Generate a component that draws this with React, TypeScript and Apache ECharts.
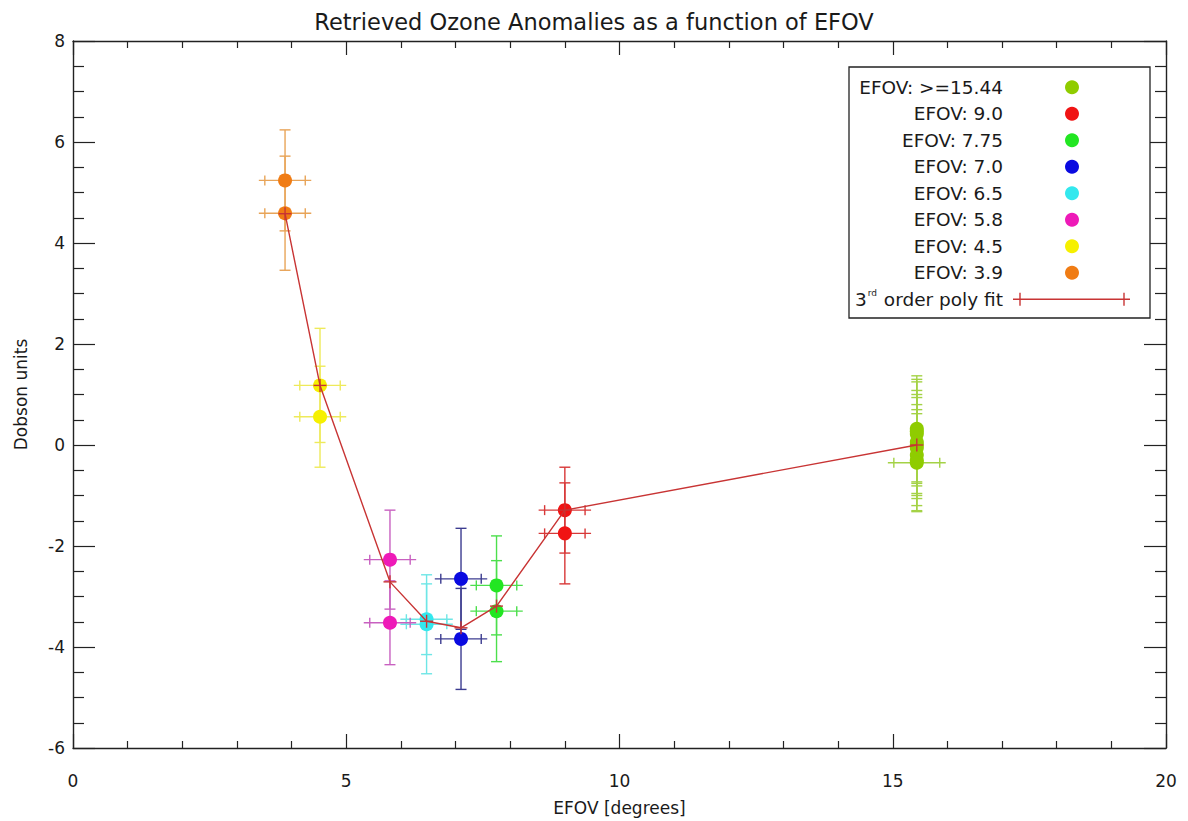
import React, { useEffect, useRef } from 'react';
import * as echarts from 'echarts';

// ---- Axis ranges / labels ----
const X_MIN = 0;
const X_MAX = 20;
const X_INTERVAL = 5;
const Y_MIN = -6;
const Y_MAX = 8;
const Y_INTERVAL = 2;
const TITLE = 'Retrieved Ozone Anomalies as a function of EFOV';
const X_NAME = 'EFOV [degrees]';
const Y_NAME = 'Dobson units';

// ---- Groups (legend order) ----
const GROUP_LABELS = [
  'EFOV: >=15.44',
  'EFOV: 9.0',
  'EFOV: 7.75',
  'EFOV: 7.0',
  'EFOV: 6.5',
  'EFOV: 5.8',
  'EFOV: 4.5',
  'EFOV: 3.9',
];
const GROUP_EFOV = [15.44, 9.0, 7.75, 7.1, 6.47, 5.8, 4.52, 3.88];

// ---- Retrieved anomalies per group ----
const EFOV_1544_Y = [0.32, 0.27, 0.22, 0.06, 0.0, -0.06, -0.2, -0.3, -0.35];
const EFOV_1544_YERR = [1.05, 1.03, 1.03, 1.02, 1.0, 1.0, 1.0, 1.0, 0.97];
const EFOV_1544_XERR = [0, 0, 0, 0, 0, 0, 0, 0, 0.42];

const EFOV_90_Y = [-1.29, -1.75];
const EFOV_90_YERR = [0.85, 1.0];
const EFOV_90_XERR = [0.37, 0.37];

const EFOV_775_Y = [-2.78, -3.29];
const EFOV_775_YERR = [0.98, 1.0];
const EFOV_775_XERR = [0.37, 0.37];

const EFOV_70_Y = [-2.65, -3.84];
const EFOV_70_YERR = [1.0, 1.0];
const EFOV_70_XERR = [0.37, 0.37];

const EFOV_65_Y = [-3.45, -3.55];
const EFOV_65_YERR = [0.7, 0.98];
const EFOV_65_XERR = [0.37, 0.37];

const EFOV_58_Y = [-2.27, -3.52];
const EFOV_58_YERR = [0.98, 0.83];
const EFOV_58_XERR = [0.37, 0.37];

const EFOV_45_Y = [1.18, 0.56];
const EFOV_45_YERR = [1.13, 1.0];
const EFOV_45_XERR = [0.37, 0.37];

const EFOV_39_Y = [5.24, 4.59];
const EFOV_39_YERR = [1.0, 1.13];
const EFOV_39_XERR = [0.37, 0.37];

// ---- 3rd order poly fit ----
const FIT_X = [3.88, 4.52, 5.8, 6.47, 7.1, 7.75, 9.0, 15.44];
const FIT_Y = [4.58, 1.18, -2.71, -3.49, -3.62, -3.19, -1.29, 0.0];
const FIT_LABEL = '3rd order poly fit';

// ---- Styles ----
const DOT_COLORS = ['#8fcc00', '#f01414', '#22e622', '#0a0ae0', '#33e8ee', '#ee1ab8', '#f6f000', '#f07c14'];
const BAR_COLORS = ['#a4d246', '#d83838', '#4cdf4c', '#3c3c90', '#6ee6e6', '#c860c0', '#eeea5a', '#e8a458'];
const FIT_COLOR = '#c83434';
const FONT = 'DejaVu Sans';
const TEXT_COLOR = '#1a1a1a';

const GROUP_Y = [EFOV_1544_Y, EFOV_90_Y, EFOV_775_Y, EFOV_70_Y, EFOV_65_Y, EFOV_58_Y, EFOV_45_Y, EFOV_39_Y];
const GROUP_YERR = [EFOV_1544_YERR, EFOV_90_YERR, EFOV_775_YERR, EFOV_70_YERR, EFOV_65_YERR, EFOV_58_YERR, EFOV_45_YERR, EFOV_39_YERR];
const GROUP_XERR = [EFOV_1544_XERR, EFOV_90_XERR, EFOV_775_XERR, EFOV_70_XERR, EFOV_65_XERR, EFOV_58_XERR, EFOV_45_XERR, EFOV_39_XERR];

function errorBarRenderer(color: string) {
  return (params: any, api: any) => {
    const x = api.value(0);
    const y = api.value(1);
    const ye = api.value(2);
    const xe = api.value(3);
    const c = api.coord([x, y]);
    const top = api.coord([x, y + ye]);
    const bot = api.coord([x, y - ye]);
    const st = { stroke: color, lineWidth: 1.4 };
    const capV = 5.5;
    const children: any[] = [
      { type: 'line', shape: { x1: c[0], y1: top[1], x2: c[0], y2: bot[1] }, style: st },
      { type: 'line', shape: { x1: c[0] - capV, y1: top[1], x2: c[0] + capV, y2: top[1] }, style: st },
      { type: 'line', shape: { x1: c[0] - capV, y1: bot[1], x2: c[0] + capV, y2: bot[1] }, style: st },
    ];
    if (xe > 0) {
      const l = api.coord([x - xe, y]);
      const r = api.coord([x + xe, y]);
      const over = 6;
      const capH = 5;
      children.push(
        { type: 'line', shape: { x1: l[0] - over, y1: c[1], x2: r[0] + over, y2: c[1] }, style: st },
        { type: 'line', shape: { x1: l[0], y1: c[1] - capH, x2: l[0], y2: c[1] + capH }, style: st },
        { type: 'line', shape: { x1: r[0], y1: c[1] - capH, x2: r[0], y2: c[1] + capH }, style: st }
      );
    }
    return { type: 'group', children };
  };
}

function plusRenderer(color: string, half: number) {
  return (params: any, api: any) => {
    const c = api.coord([api.value(0), api.value(1)]);
    const st = { stroke: color, lineWidth: 1.4 };
    return {
      type: 'group',
      children: [
        { type: 'line', shape: { x1: c[0] - half, y1: c[1], x2: c[0] + half, y2: c[1] }, style: st },
        { type: 'line', shape: { x1: c[0], y1: c[1] - half, x2: c[0], y2: c[1] + half }, style: st },
      ],
    };
  };
}

function buildOption() {
  const series: any[] = [];
  GROUP_LABELS.forEach((label, g) => {
    const ys = GROUP_Y[g];
    series.push({
      type: 'custom',
      name: label + ' err',
      z: 2,
      silent: true,
      renderItem: errorBarRenderer(BAR_COLORS[g]),
      encode: { x: 0, y: 1 },
      data: ys.map((y, i) => [GROUP_EFOV[g], y, GROUP_YERR[g][i], GROUP_XERR[g][i]]),
    });
    series.push({
      type: 'scatter',
      name: label,
      z: 3,
      symbol: 'circle',
      symbolSize: 14,
      itemStyle: { color: DOT_COLORS[g], opacity: 1 },
      data: ys.map((y) => [GROUP_EFOV[g], y]),
    });
  });
  series.push({
    type: 'line',
    name: FIT_LABEL,
    z: 5,
    symbol: 'none',
    lineStyle: { color: FIT_COLOR, width: 1.4 },
    data: FIT_X.map((x, i) => [x, FIT_Y[i]]),
  });
  series.push({
    type: 'custom',
    name: FIT_LABEL + ' markers',
    z: 6,
    silent: true,
    renderItem: plusRenderer(FIT_COLOR, 6.5),
    encode: { x: 0, y: 1 },
    data: FIT_X.map((x, i) => [x, FIT_Y[i]]),
  });

  // Legend (drawn as graphic)
  const boxL = 849, boxT = 67, boxR = 1150, boxB = 318;
  const textX = 1003, dotX = 1072, row0 = 87.3, rowH = 26.5;
  const legendEls: any[] = [
    {
      type: 'rect',
      shape: { x: boxL, y: boxT, width: boxR - boxL, height: boxB - boxT },
      style: { fill: '#fff', stroke: '#222', lineWidth: 1.3 },
      z: 10,
    },
  ];
  GROUP_LABELS.forEach((label, g) => {
    const yy = row0 + g * rowH;
    legendEls.push({
      type: 'text',
      x: textX,
      y: yy,
      z: 11,
      style: { text: label, align: 'right', verticalAlign: 'middle', fontFamily: FONT, fontSize: 18.5, fill: TEXT_COLOR },
    });
    legendEls.push({
      type: 'circle',
      z: 11,
      shape: { cx: dotX, cy: yy, r: 7 },
      style: { fill: DOT_COLORS[g] },
    });
  });
  const fy = row0 + GROUP_LABELS.length * rowH;
  legendEls.push({
    type: 'text',
    x: textX,
    y: fy,
    z: 11,
    style: {
      text: '{a|3}{s|rd}{a| order poly fit}',
      align: 'right',
      verticalAlign: 'middle',
      fill: TEXT_COLOR,
      rich: {
        a: { fontFamily: FONT, fontSize: 18.5, fill: TEXT_COLOR, lineHeight: 22 },
        s: { fontFamily: FONT, fontSize: 9, fill: TEXT_COLOR, verticalAlign: 'top', lineHeight: 22, padding: [0, 1, 8, 1] },
      },
    },
  });
  legendEls.push({
    type: 'line',
    z: 11,
    shape: { x1: 1013, y1: fy, x2: 1130, y2: fy },
    style: { stroke: FIT_COLOR, lineWidth: 1.4 },
  });
  [1020, 1124].forEach((px) => {
    legendEls.push({
      type: 'line',
      z: 11,
      shape: { x1: px, y1: fy - 6.5, x2: px, y2: fy + 6.5 },
      style: { stroke: FIT_COLOR, lineWidth: 1.4 },
    });
  });

  const axisLine = { show: true, onZero: false, lineStyle: { color: '#222', width: 1.4 } };
  const labelStyle = { fontFamily: FONT, fontSize: 17, color: TEXT_COLOR };

  return {
    animation: false,
    backgroundColor: '#ffffff',
    textStyle: { fontFamily: FONT },
    title: {
      text: TITLE,
      left: 'center',
      top: 5,
      textStyle: { fontFamily: FONT, fontSize: 22.5, fontWeight: 'normal', color: TEXT_COLOR },
    },
    grid: { left: 73, top: 41, width: 1093, height: 712, containLabel: false },
    xAxis: [
      {
        type: 'value',
        position: 'bottom',
        min: X_MIN,
        max: X_MAX,
        interval: X_INTERVAL,
        name: X_NAME,
        nameLocation: 'middle',
        nameGap: 51,
        nameTextStyle: { fontFamily: FONT, fontSize: 17, color: TEXT_COLOR },
        axisLine,
        axisTick: { show: true, inside: true, length: 14, lineStyle: { color: '#222', width: 1.2 } },
        minorTick: { show: true, splitNumber: 5, length: 7, lineStyle: { color: '#222', width: 1.2 } },
        axisLabel: { ...labelStyle, margin: 24 },
        splitLine: { show: false },
      },
      {
        type: 'value',
        position: 'top',
        min: X_MIN,
        max: X_MAX,
        interval: X_INTERVAL,
        axisLine,
        axisTick: { show: true, inside: true, length: 14, lineStyle: { color: '#222', width: 1.2 } },
        minorTick: { show: true, splitNumber: 5, length: 7, lineStyle: { color: '#222', width: 1.2 } },
        axisLabel: { show: false },
        splitLine: { show: false },
      },
    ],
    yAxis: [
      {
        type: 'value',
        position: 'left',
        min: Y_MIN,
        max: Y_MAX,
        interval: Y_INTERVAL,
        name: Y_NAME,
        nameLocation: 'middle',
        nameRotate: 90,
        nameGap: 44,
        nameTextStyle: { fontFamily: FONT, fontSize: 17, color: TEXT_COLOR },
        axisLine,
        axisTick: { show: true, inside: true, length: 22, lineStyle: { color: '#222', width: 1.2 } },
        minorTick: { show: true, splitNumber: 4, length: 11, lineStyle: { color: '#222', width: 1.2 } },
        axisLabel: { ...labelStyle, margin: 8, padding: [12, 0, 0, 0] },
        splitLine: { show: false },
      },
      {
        type: 'value',
        position: 'right',
        min: Y_MIN,
        max: Y_MAX,
        interval: Y_INTERVAL,
        axisLine,
        axisTick: { show: true, inside: true, length: 22, lineStyle: { color: '#222', width: 1.2 } },
        minorTick: { show: true, splitNumber: 4, length: 11, lineStyle: { color: '#222', width: 1.2 } },
        axisLabel: { show: false },
        splitLine: { show: false },
      },
    ],
    graphic: legendEls,
    series,
  };
}

export default function App() {
  const ref = useRef<HTMLDivElement>(null);
  useEffect(() => {
    document.body.style.margin = '0';
    if (!ref.current) return;
    const chart = echarts.init(ref.current, undefined, { renderer: 'svg' });
    chart.setOption(buildOption() as any);
    return () => {
      chart.dispose();
    };
  }, []);
  return <div ref={ref} style={{ width: 1188, height: 821, background: '#fff' }} />;
}
